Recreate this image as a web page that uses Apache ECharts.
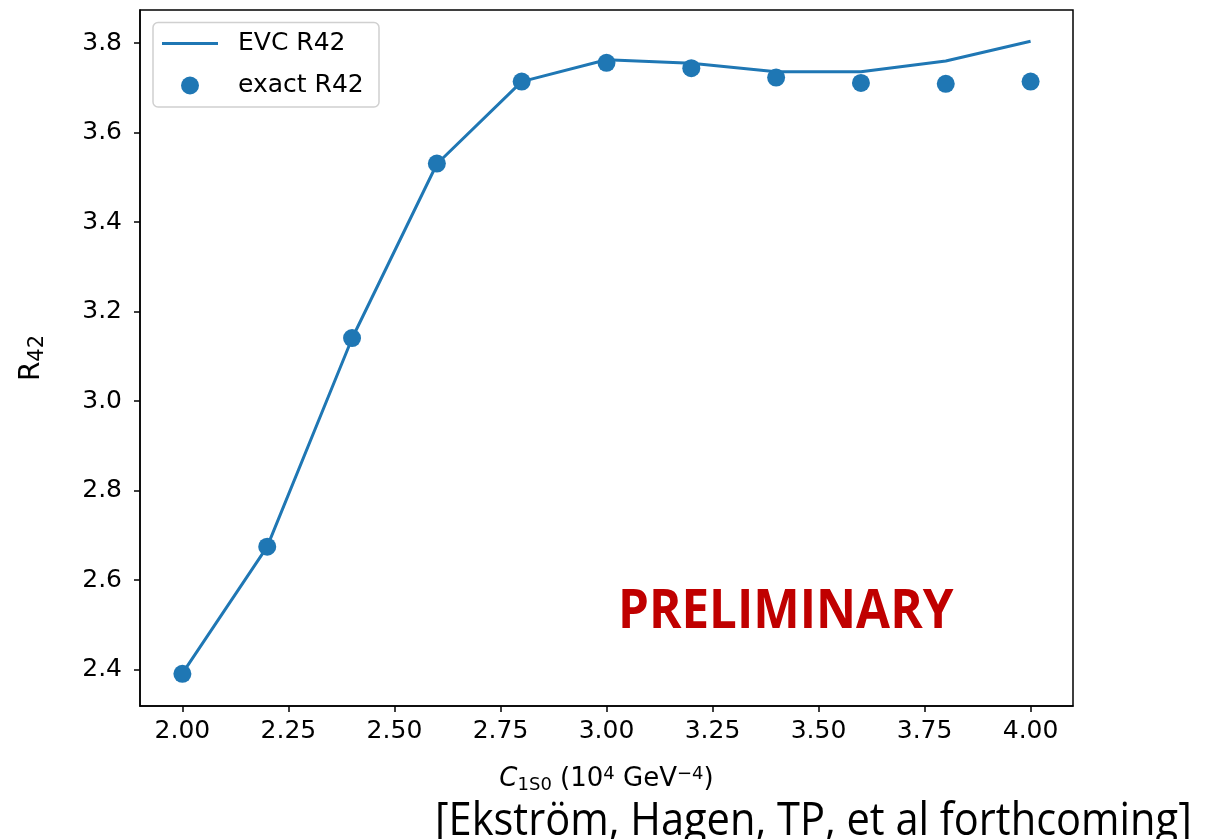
<!DOCTYPE html>
<html><head><meta charset="utf-8">
<script src="https://cdn.jsdelivr.net/npm/echarts@6/dist/echarts.min.js"></script>
<style>html,body{margin:0;padding:0;background:#fff}#c{width:1217px;height:839px}</style>
</head><body><div id="c"></div>
<script>
const xValues = [2.0, 2.2, 2.4, 2.6, 2.8, 3.0, 3.2, 3.4, 3.6, 3.8, 4.0];
const evcR42 = [2.392, 2.675, 3.140, 3.530, 3.714, 3.763, 3.755, 3.736, 3.736, 3.760, 3.804];
const exactR42 = [2.391, 2.675, 3.141, 3.531, 3.714, 3.756, 3.744, 3.723, 3.711, 3.709, 3.714];
const xTicks = [2.00, 2.25, 2.50, 2.75, 3.00, 3.25, 3.50, 3.75, 4.00];
const yTicks = [2.4, 2.6, 2.8, 3.0, 3.2, 3.4, 3.6, 3.8];

const blue = '#1f77b4';
const font = 'DejaVu Sans';
const chart = echarts.init(document.getElementById('c'), null, {renderer: 'canvas'});
chart.setOption({
  animation: false,
  grid: {left: 140, right: 144, top: 10, bottom: 133, show: true, borderColor: '#000', borderWidth: 1.5, backgroundColor: 'transparent'},
  xAxis: {
    type: 'value', min: 1.9, max: 4.1,
    axisLine: {show: true, onZero: false, lineStyle: {color: '#000', width: 1.5}},
    axisTick: {show: true, length: 6, lineStyle: {color: '#000', width: 1.5}, customValues: xTicks},
    axisLabel: {color: '#000', fontFamily: font, fontSize: 25, margin: 13, customValues: xTicks, formatter: v => v.toFixed(2)},
    splitLine: {show: false},
    name: '{it|C}{sub|1S0} (10{sup|4} GeV{sup|−4})',
    nameLocation: 'middle', nameGap: 59,
    nameTextStyle: {color: '#000', fontFamily: font, fontSize: 26,
      rich: {it: {fontStyle: 'italic', fontFamily: font, fontSize: 26, color: '#000'},
             sub: {fontFamily: font, fontSize: 18, padding: [11, 0, 0, 0], color: '#000'},
             sup: {fontFamily: font, fontSize: 18, padding: [0, 0, 11, 0], color: '#000'}}}
  },
  yAxis: {
    type: 'value', min: 2.319, max: 3.874,
    axisLine: {show: true, onZero: false, lineStyle: {color: '#000', width: 1.5}},
    axisTick: {show: true, length: 6, lineStyle: {color: '#000', width: 1.5}, customValues: yTicks},
    axisLabel: {color: '#000', fontFamily: font, fontSize: 25, margin: 18, customValues: yTicks, formatter: v => v.toFixed(1)},
    splitLine: {show: false},
    name: 'R{sub|42}', nameLocation: 'middle', nameGap: 92, nameRotate: 90,
    nameTextStyle: {color: '#000', fontFamily: font, fontSize: 28,
      rich: {sub: {fontFamily: font, fontSize: 21, padding: [12, 0, 0, 0], color: '#000'}}}
  },
  legend: [
    {data: [{name: 'EVC R42', icon: 'rect'}], left: 162, top: 31, padding: 0, itemWidth: 56, itemHeight: 3,
     textStyle: {fontFamily: font, fontSize: 25, color: '#000', padding: [0, 0, 0, 15]}, selectedMode: false},
    {data: [{name: 'exact R42', icon: 'circle'}], left: 181, top: 73, padding: 0, itemWidth: 18, itemHeight: 18,
     textStyle: {fontFamily: font, fontSize: 25, color: '#000', padding: [0, 0, 0, 34]}, selectedMode: false}
  ],
  graphic: [
    {type: 'rect', shape: {x: 153, y: 22.5, width: 226, height: 84.5, r: 5}, style: {fill: 'rgba(255,255,255,0.8)', stroke: '#d0d0d0', lineWidth: 1.5}, z: 0},
    {type: 'text', left: 618, top: 586, style: {text: 'PRELIMINARY', fill: '#C00000', font: 'bold 53px "Open Sans"'}, scaleX: 0.93, z: 100},
    {type: 'text', left: 435, top: 800, style: {text: '[Ekström, Hagen, TP, et al forthcoming]', fill: '#000', font: '45px "Open Sans"'}, scaleX: 0.924, z: 100}
  ],
  series: [
    {name: 'EVC R42', type: 'line', data: xValues.map((x, i) => [x, evcR42[i]]), showSymbol: false,
     lineStyle: {color: blue, width: 3}, itemStyle: {color: blue}, z: 3},
    {name: 'exact R42', type: 'scatter', data: xValues.map((x, i) => [x, exactR42[i]]), symbolSize: 18,
     itemStyle: {color: blue, opacity: 1}, z: 4}
  ]
});
</script></body></html>
